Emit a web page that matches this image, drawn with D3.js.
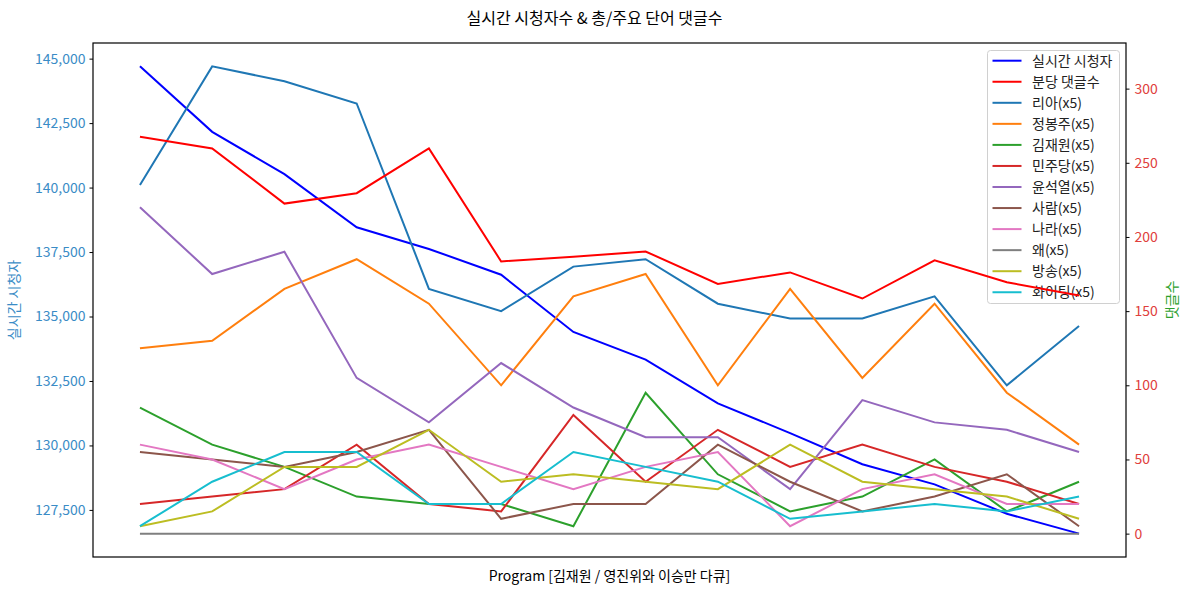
<!DOCTYPE html>
<html>
<head>
<meta charset="utf-8">
<script src="https://cdn.jsdelivr.net/npm/d3@7"></script>
<style>
  html, body { margin: 0; padding: 0; background: #fff; }
  svg { display: block; font-family: "Noto Sans CJK KR", "Noto Sans", sans-serif; }
</style>
</head>
<body>
<svg id="chart" width="1189" height="592"></svg>
<script>
// ---- data ----
const steps = [1, 2, 3, 4, 5, 6, 7, 8, 9, 10, 11, 12, 13, 14];
const viewers = [144700, 142160, 140520, 138460, 137620, 136620, 134400, 133330, 131630, 130480, 129270, 128490, 127350, 126580];
const commentsPerMin = [267.6, 259.7, 222.5, 229.5, 259.7, 183.5, 186.6, 190.2, 168.3, 176.1, 158.5, 184.2, 169.5, 160.5];
const kwRia = [235, 315, 305, 290, 165, 150, 180, 185, 155, 145, 145, 160, 100, 140];
const kwJung = [125, 130, 165, 185, 155, 100, 160, 175, 100, 165, 105, 155, 95, 60];
const kwKim = [85, 60, 45, 25, 20, 20, 5, 95, 40, 15, 25, 50, 15, 35];
const kwMinju = [20, 25, 30, 60, 20, 15, 80, 35, 70, 45, 60, 45, 35, 20];
const kwYoon = [220, 175, 190, 105, 75, 115, 85, 65, 65, 30, 90, 75, 70, 55];
const kwSaram = [55, 50, 45, 55, 70, 10, 20, 20, 60, 35, 15, 25, 40, 5];
const kwNara = [60, 50, 30, 50, 60, 45, 30, 45, 55, 5, 30, 40, 20, 20];
const kwWae = [0, 0, 0, 0, 0, 0, 0, 0, 0, 0, 0, 0, 0, 0];
const kwBroadcast = [5, 15, 45, 45, 70, 35, 40, 35, 30, 60, 35, 30, 25, 10];
const kwFighting = [5, 35, 55, 55, 20, 20, 55, 45, 35, 10, 15, 20, 15, 25];
const leftTicks = [127500, 130000, 132500, 135000, 137500, 140000, 142500, 145000];
const rightTicks = [0, 50, 100, 150, 200, 250, 300];

const keywordSeries = [
  { name: "리아(x5)", values: kwRia, color: "#1f77b4" },
  { name: "정봉주(x5)", values: kwJung, color: "#ff7f0e" },
  { name: "김재원(x5)", values: kwKim, color: "#2ca02c" },
  { name: "민주당(x5)", values: kwMinju, color: "#d62728" },
  { name: "윤석열(x5)", values: kwYoon, color: "#9467bd" },
  { name: "사람(x5)", values: kwSaram, color: "#8c564b" },
  { name: "나라(x5)", values: kwNara, color: "#e377c2" },
  { name: "왜(x5)", values: kwWae, color: "#7f7f7f" },
  { name: "방송(x5)", values: kwBroadcast, color: "#bcbd22" },
  { name: "화이팅(x5)", values: kwFighting, color: "#17becf" }
];

// ---- layout ----
const W = 1189, H = 592;
const L = 93, R = 1126, T = 43, B = 557;
const svg = d3.select("#chart");

function padDomain(vals) {
  const mn = d3.min(vals), mx = d3.max(vals);
  const p = (mx - mn) * 0.05;
  return [mn - p, mx + p];
}

const x = d3.scaleLinear()
  .domain([steps[0] - (steps.length - 1) * 0.05, steps[steps.length - 1] + (steps.length - 1) * 0.05])
  .range([L, R]);
const yL = d3.scaleLinear().domain(padDomain(viewers)).range([B, T]);
const rightAll = commentsPerMin.concat(...keywordSeries.map(s => s.values));
const yR = d3.scaleLinear().domain(padDomain(rightAll)).range([B, T]);

const fontTick = 14;

// left axis
const axL = svg.append("g").attr("transform", `translate(${L},0)`)
  .call(d3.axisLeft(yL).tickValues(leftTicks).tickFormat(d3.format(",")).tickSizeOuter(0).tickSize(3.5).tickPadding(4));
axL.select(".domain").remove();
axL.selectAll(".tick line").attr("stroke", "#000").attr("stroke-width", 1);
axL.selectAll(".tick text").attr("fill", "#3a8cc6").attr("font-size", fontTick).attr("font-family", "'Noto Sans CJK KR', sans-serif");

// right axis
const axR = svg.append("g").attr("transform", `translate(${R},0)`)
  .call(d3.axisRight(yR).tickValues(rightTicks).tickSizeOuter(0).tickSize(3.5).tickPadding(5));
axR.select(".domain").remove();
axR.selectAll(".tick line").attr("stroke", "#000").attr("stroke-width", 1);
axR.selectAll(".tick text").attr("fill", "#e0403c").attr("font-size", fontTick).attr("font-family", "'Noto Sans CJK KR', sans-serif");

const line = (ys) => d3.line().x((d, i) => x(steps[i])).y(d => ys(d));

const plot = svg.append("g");
// viewers on left axis (drawn first)
plot.append("path").datum(viewers).attr("d", line(yL))
  .attr("fill", "none").attr("stroke", "#0000ff").attr("stroke-width", 2);

// legend (belongs to first axes; right-axis lines drawn above it)
const legendItems = [{ name: "실시간 시청자", color: "#0000ff" }, { name: "분당 댓글수", color: "#ff0000" }]
  .concat(keywordSeries.map(s => ({ name: s.name, color: s.color })));
const lg = svg.append("g");
const lgX = 987, lgY = 50, lgW = 132, lgH = 253, rowH = 21.05, row0 = 60.7;
lg.append("rect").attr("x", lgX + 0.5).attr("y", lgY + 0.5).attr("width", lgW).attr("height", lgH)
  .attr("rx", 3).attr("fill", "rgba(255,255,255,0.8)").attr("stroke", "#d0d0d0").attr("stroke-width", 1);
legendItems.forEach((it, i) => {
  const cy = row0 + i * rowH;
  lg.append("line").attr("x1", 992.5).attr("x2", 1021.5).attr("y1", cy).attr("y2", cy)
    .attr("stroke", it.color).attr("stroke-width", 2);
  lg.append("text").attr("x", 1032).attr("y", cy).attr("dy", "0.36em")
    .attr("font-size", 14).attr("fill", "#222").text(it.name);
});

// right-axis lines
plot.append("g").selectAll("path").data(keywordSeries.slice()).enter().append("path")
  .attr("d", d => line(yR)(d.values))
  .attr("fill", "none").attr("stroke", d => d.color).attr("stroke-width", 2);
// comments per minute (red) — drawn before keywords in matplotlib order
svg.append("path").datum(commentsPerMin).attr("d", line(yR))
  .attr("fill", "none").attr("stroke", "#ff0000").attr("stroke-width", 2);

// frame
svg.append("rect").attr("x", L).attr("y", T).attr("width", R - L).attr("height", B - T)
  .attr("fill", "none").attr("stroke", "#000").attr("stroke-width", 1.2);

// titles
svg.append("text").attr("x", W / 2).attr("y", 18).attr("dy", "0.36em").attr("text-anchor", "middle")
  .attr("font-size", 16).attr("fill", "#000").text("실시간 시청자수 & 총/주요 단어 댓글수");
svg.append("text").attr("x", (L + R) / 2).attr("y", 576).attr("dy", "0.36em").attr("text-anchor", "middle")
  .attr("font-size", 14).attr("fill", "#000").text("Program [김재원 / 영진위와 이승만 다큐]");
svg.append("text").attr("transform", `translate(14,${(T + B) / 2}) rotate(-90)`).attr("dy", "0.36em")
  .attr("text-anchor", "middle").attr("font-size", 14).attr("fill", "#3a8cc6").text("실시간 시청자");
svg.append("text").attr("transform", `translate(1172,${(T + B) / 2}) rotate(-90)`).attr("dy", "0.36em")
  .attr("text-anchor", "middle").attr("font-size", 14).attr("fill", "#2ca02c").text("댓글수");
</script>
</body>
</html>
